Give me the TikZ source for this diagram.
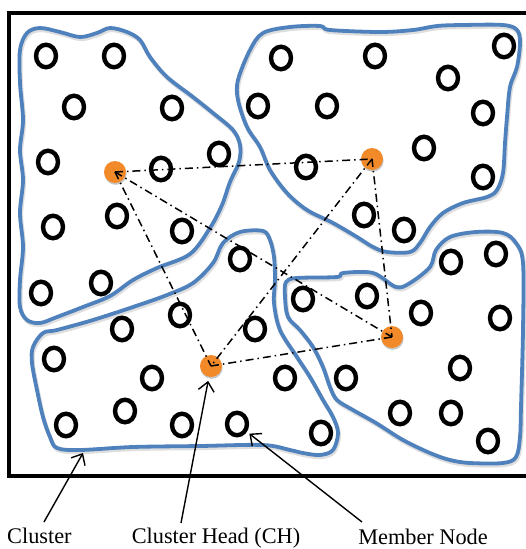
\documentclass[tikz,border=0pt]{standalone}
\usepackage{fontspec}
\setmainfont{Liberation Serif}
\usetikzlibrary{arrows.meta,shapes.geometric}
\definecolor{clblue}{RGB}{79,129,189}
\definecolor{chorange}{RGB}{242,138,42}
\begin{document}
\begin{tikzpicture}[x=1pt,y=-1pt,
  member/.style={ellipse, draw, line width=4.4pt, minimum width=20pt, minimum height=22.5pt, inner sep=0pt},
  chead/.style={circle, fill=chorange, minimum size=22pt, inner sep=0pt,
    preaction={fill=black!22, transform canvas={shift={(0.6pt,-1.8pt)}}}},
  cluster/.style={draw=clblue, line width=3.8pt, line join=round,
    preaction={draw=black!13, line width=4.2pt, transform canvas={shift={(1pt,-2pt)}}}},
  link/.style={line width=1.5pt, dash pattern=on 8pt off 4pt on 1.5pt off 4pt},
  pointer/.style={line width=1.4pt, -{Straight Barb[length=9pt,width=16pt]}},
  lbl/.style={font=\fontsize{22.3}{26}\selectfont, inner sep=0pt, anchor=base}]
\useasboundingbox (0,0) rectangle (526,549);
\fill[white] (0,0) rectangle (526,549);
% outer frame
\draw[line width=4pt, line join=miter] (540,13) -- (9,13) -- (9,476) -- (540,476);
% clusters
\draw[cluster] plot[smooth cycle, tension=0.55] coordinates {
 (20,50) (27,33) (40,28) (60,32) (80,37) (97,33) (110,28) (127,32) (140,40) (150,57)
 (167,77) (193,97) (213,113) (233,130) (240,145) (239,162) (230,182) (222,205) (210,228)
 (190,254) (157,268) (133,280) (110,296) (83,307) (57,317) (40,323) (27,320) (20,307)
 (20,280) (23,247) (20,213) (23,180) (20,150) (23,120) (20,83)};
\draw[cluster] plot[smooth cycle, tension=0.55] coordinates {
 (238,80) (250,50) (263,33) (290,27) (320,26) (330,30) (380,32) (413,30) (437,26) (463,25)
 (503,25) (517,30) (520,43) (517,67) (510,87) (507,117) (505,143) (503,173) (497,190)
 (487,197) (463,203) (443,213) (430,227) (420,243) (410,252) (387,252) (373,247) (357,237)
 (333,223) (307,210) (287,193) (270,170) (260,147) (247,127) (238,100)};
\draw[cluster] plot[smooth cycle, tension=0.55] coordinates {
 (43,333) (57,330) (93,320) (133,307) (167,295) (193,283) (213,263) (223,243) (240,232)
 (263,231) (270,240) (274,257) (275,280) (274,303) (280,330) (297,357) (310,377) (323,400)
 (333,417) (338,433) (333,450) (320,455) (303,453) (290,450) (263,445) (200,446) (133,447)
 (80,450) (57,448) (50,437) (43,417) (37,390) (32,363) (33,347)};
\draw[cluster] plot[smooth cycle, tension=0.55] coordinates {
 (286,282) (297,278) (337,277) (343,273) (373,273) (396,287) (410,283) (430,267) (436,250)
 (450,237) (476,232) (503,233) (516,243) (523,263) (523,330) (521,407) (520,437) (516,457)
 (503,463) (470,463) (450,460) (430,453) (403,440) (376,423) (353,410) (337,400) (330,387)
 (323,367) (313,347) (300,330) (288,317) (285,297)};
% member nodes
\foreach \x/\y [count=\i] in {46/56,114/56,74/107,172/108,48/162,219/154,161/169,117/216,
  53/227,182/231,41/293,101/283}
  \node[member] (tl\i) at (\x,\y) {};
\foreach \x/\y [count=\i] in {281/58,375/56,504/46,448/78,258/106,327/106,483/113,424/148,
  306/167,483/177,364/215,404/230}
  \node[member] (tr\i) at (\x,\y) {};
\foreach \x/\y [count=\i] in {240/259,180/315,122/329,54/359,255/329,152/378,125/411,66/425,
  182/425,285/378,321/433}
  \node[member] (bl\i) at (\x,\y) {};
\node[member] (mnode) at (237,424) {};
\foreach \x/\y [count=\i] in {303/299,367/296,421/313,451/262,496/254,500/318,346/378,
  460/368,400/413,451/413,488/441}
  \node[member] (br\i) at (\x,\y) {};
% cluster heads
\node[chead] (ch1) at (115,172) {};
\node[chead] (ch2) at (372,159) {};
\node[chead] (ch3) at (211,366) {};
\node[chead] (ch4) at (392,337) {};
% links between cluster heads
\draw[link] (ch1.center) -- (ch2.center);
\draw[link] (ch1.center) -- (ch3.center);
\draw[link] (ch1.center) -- (ch4.center);
\draw[link] (ch2.center) -- (ch3.center);
\draw[link] (ch2.center) -- (ch4.center);
\draw[link] (ch3.center) -- (ch4.center);
% labels
\node[lbl, anchor=base west] (lC) at (7,543) {Cluster};
\node[lbl] (lCH) at (216,543) {Cluster Head (CH)};
\node[lbl] (lM) at (423,544) {Member Node};
\coordinate (tC) at (44,522);
\coordinate (tCH) at (181,523);
\coordinate (tM) at (362,522);
\coordinate (cpt) at (83,453);
\draw[pointer] (tC) -- (cpt);
\draw[pointer, shorten >=4pt] (tCH) -- (ch3);
\draw[pointer, shorten >=3pt] (tM) -- (mnode);
\end{tikzpicture}
\end{document}
